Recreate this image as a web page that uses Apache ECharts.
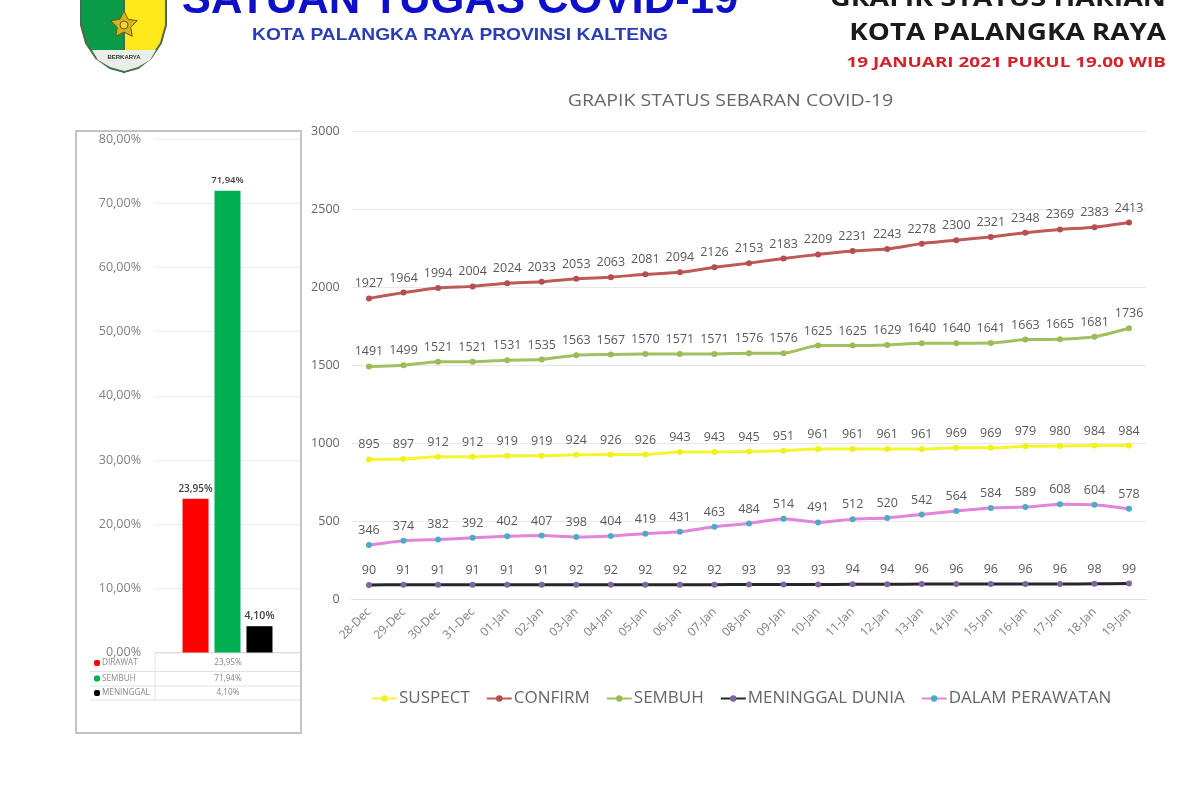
<!DOCTYPE html>
<html>
<head>
<meta charset="utf-8">
<script src="https://cdn.jsdelivr.net/npm/echarts@6/dist/echarts.min.js"></script>
<style>html,body{margin:0;padding:0;background:#fff}#c{width:1200px;height:800px}</style>
</head>
<body>
<div id="c"></div>
<script>
const dates = ['28-Dec','29-Dec','30-Dec','31-Dec','01-Jan','02-Jan','03-Jan','04-Jan','05-Jan','06-Jan','07-Jan','08-Jan','09-Jan','10-Jan','11-Jan','12-Jan','13-Jan','14-Jan','15-Jan','16-Jan','17-Jan','18-Jan','19-Jan'];
const suspect = [895,897,912,912,919,919,924,926,926,943,943,945,951,961,961,961,961,969,969,979,980,984,984];
const confirm_ = [1927,1964,1994,2004,2024,2033,2053,2063,2081,2094,2126,2153,2183,2209,2231,2243,2278,2300,2321,2348,2369,2383,2413];
const sembuh = [1491,1499,1521,1521,1531,1535,1563,1567,1570,1571,1571,1576,1576,1625,1625,1629,1640,1640,1641,1663,1665,1681,1736];
const meninggal = [90,91,91,91,91,91,92,92,92,92,92,93,93,93,94,94,96,96,96,96,96,98,99];
const perawatan = [346,374,382,392,402,407,398,404,419,431,463,484,514,491,512,520,542,564,584,589,608,604,578];
const pctNames = ['DIRAWAT','SEMBUH','MENINGGAL'];
const pctValues = [23.95,71.94,4.10];
const pctColors = ['#ff0000','#00b050','#000000'];
const fmtPct = v => v.toFixed(2).replace('.', ',') + '%';
const font = '"Open Sans", sans-serif';

function lineSeries(name, data, lineColor, dotColor) {
  return {
    name, type: 'line', data, xAxisIndex: 1, yAxisIndex: 1, smooth: 0.2,
    symbol: 'circle', symbolSize: 6,
    lineStyle: { color: lineColor, width: 3 },
    itemStyle: { color: dotColor },
    label: { show: true, position: 'top', distance: 5, fontSize: 12.5, color: '#595959', fontFamily: font }
  };
}
function barSeries(i, labelSize) {
  return {
    name: 'bar ' + pctNames[i], type: 'bar', xAxisIndex: 0, yAxisIndex: 0,
    data: [pctValues[i]], barWidth: 26, barGap: '23%',
    itemStyle: { color: pctColors[i] },
    label: { show: true, position: 'top', distance: 5, fontSize: labelSize, fontWeight: 600, color: '#404040', fontFamily: font, formatter: p => fmtPct(p.value) }
  };
}
function stretchedText(x, y, text, fontCss, fill, scaleX, align) {
  return { type: 'text', x, y, originX: 0, originY: 0, scaleX, style: { text, font: fontCss, fill, align, verticalAlign: 'middle' } };
}

// table under the bar chart
const tableGraphics = [];
const rowY = [663, 678.5, 693];
const lineY = [653, 671.5, 686, 700];
lineY.forEach((y, i) => tableGraphics.push({ type: 'line', shape: { x1: i ? 90 : 155, y1: y, x2: 300, y2: y }, style: { stroke: '#e2e2e2', lineWidth: 1 } }));
tableGraphics.push({ type: 'line', shape: { x1: 155, y1: 653, x2: 155, y2: 700 }, style: { stroke: '#e2e2e2', lineWidth: 1 } });
pctNames.forEach((n, i) => {
  tableGraphics.push({ type: 'rect', shape: { x: 94, y: rowY[i] - 3, width: 6, height: 6, r: 2 }, style: { fill: pctColors[i] } });
  tableGraphics.push({ type: 'text', x: 102, y: rowY[i], style: { text: n, font: '8.2px ' + font, fill: '#888', verticalAlign: 'middle' } });
  tableGraphics.push({ type: 'text', x: 228, y: rowY[i], style: { text: fmtPct(pctValues[i]), font: '8.2px ' + font, fill: '#888', align: 'center', verticalAlign: 'middle' } });
});

// five-pointed star of the crest
const starPoints = [];
for (let k = 0; k < 10; k++) {
  const a = -Math.PI / 2 + k * Math.PI / 5, r = k % 2 ? 7 : 14;
  starPoints.push([124 + r * Math.cos(a), 25 + r * Math.sin(a)]);
}

const chart = echarts.init(document.getElementById('c'));
chart.setOption({
  animation: false,
  backgroundColor: '#fff',
  legend: {
    data: ['SUSPECT','CONFIRM','SEMBUH','MENINGGAL DUNIA','DALAM PERAWATAN'],
    left: 366, top: 685, itemWidth: 25, itemHeight: 8, itemGap: 16,
    textStyle: { fontSize: 17, color: '#666', fontFamily: font, padding: [0,0,0,-3] }
  },
  grid: [
    { left: 155, width: 145, top: 139, height: 513.5 },
    { left: 351.7, width: 794.6, top: 131, height: 468 }
  ],
  xAxis: [
    { type: 'category', gridIndex: 0, data: [''], axisLine: { show: true, lineStyle: { color: '#ddd' } }, axisTick: { show: false }, axisLabel: { show: false } },
    { type: 'category', gridIndex: 1, data: dates, axisLine: { show: true, lineStyle: { color: '#e0e0e0' } }, axisTick: { show: false },
      axisLabel: { interval: 0, rotate: 45, fontSize: 12, color: '#808080', margin: 11, fontFamily: font } }
  ],
  yAxis: [
    { type: 'value', gridIndex: 0, min: 0, max: 80, interval: 10, axisLine: { show: false }, axisTick: { show: false },
      splitLine: { lineStyle: { color: '#ececec' } },
      axisLabel: { fontSize: 12.5, color: '#808080', margin: 14, fontFamily: font, formatter: v => fmtPct(v) } },
    { type: 'value', gridIndex: 1, min: 0, max: 3000, interval: 500, axisLine: { show: false }, axisTick: { show: false },
      splitLine: { lineStyle: { color: '#e8e8e8' } },
      axisLabel: { fontSize: 12.5, color: '#666', margin: 12, fontFamily: font, formatter: v => String(v) } }
  ],
  series: [
    barSeries(0, 10), barSeries(1, 9.5), barSeries(2, 10.5),
    lineSeries('SUSPECT', suspect, '#f5f52e', '#f0f020'),
    lineSeries('CONFIRM', confirm_, '#bd5a57', '#b54f4c'),
    lineSeries('SEMBUH', sembuh, '#a2bf62', '#9bbb59'),
    lineSeries('MENINGGAL DUNIA', meninggal, '#26262c', '#8064a2'),
    lineSeries('DALAM PERAWATAN', perawatan, '#e284dc', '#4bacc6')
  ],
  graphic: [
    { type: 'rect', z: -1, shape: { x: 76, y: 131, width: 225, height: 602 }, style: { fill: 'none', stroke: '#c4c4c4', lineWidth: 2 } },
    ...tableGraphics,
    // crest
    { type: 'polygon', shape: { points: [[81,-5],[124,-5],[124,72],[110,68],[96,58],[86,43],[81,25]] }, style: { fill: '#0a9a48', stroke: '#4a6a50', lineWidth: 2 } },
    { type: 'polygon', shape: { points: [[124,-5],[166,-5],[166,25],[161,43],[151,58],[138,68],[124,72]] }, style: { fill: '#ffe81a', stroke: '#4a6a50', lineWidth: 2 } },
    { type: 'polygon', shape: { points: [[92,50],[156,50],[150,60],[138,67],[124,71],[110,67],[98,60]] }, style: { fill: '#e9efe6' } },
    { type: 'polygon', shape: { points: starPoints }, style: { fill: '#d8b418', stroke: '#6b5a10', lineWidth: 1 } },
    { type: 'circle', shape: { cx: 124, cy: 25, r: 4 }, style: { fill: '#f3d63a', stroke: '#6b5a10', lineWidth: 1 } },
    { type: 'text', x: 124, y: 57, style: { text: 'BERKARYA', font: 'bold 6px "Liberation Sans"', fill: '#333', align: 'center', verticalAlign: 'middle' } },
    // headers
    { type: 'text', x: 460, y: 0.5, style: { text: 'SATUAN TUGAS COVID-19', font: 'bold 43.6px "Liberation Sans"', fill: '#0d10c8', align: 'center', verticalAlign: 'middle' } },
    stretchedText(460, 35, 'KOTA PALANGKA RAYA PROVINSI KALTENG', 'bold 17px "Liberation Sans"', '#2a3cb8', 1.13, 'center'),
    stretchedText(1166, -0.5, 'GRAFIK STATUS HARIAN', 'bold 24px "Open Sans"', '#1a1a1a', 1.187, 'right'),
    stretchedText(1166, 33, 'KOTA PALANGKA RAYA', 'bold 24px "Open Sans"', '#1a1a1a', 1.16, 'right'),
    stretchedText(1166, 63, '19 JANUARI 2021 PUKUL 19.00 WIB', 'bold 15px "Open Sans"', '#d2232a', 1.26, 'right'),
    stretchedText(730.5, 102, 'GRAPIK STATUS SEBARAN COVID-19', '15.5px "Open Sans"', '#666', 1.26, 'center')
  ]
});
</script>
</body>
</html>
